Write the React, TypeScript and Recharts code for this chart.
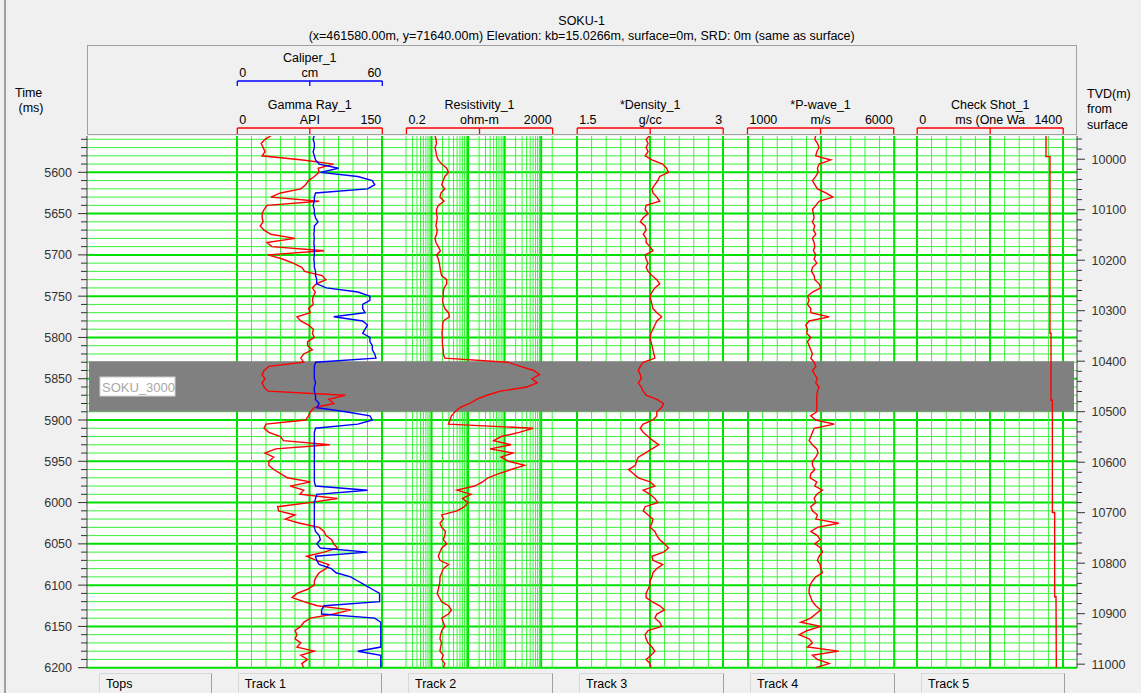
import React from 'react';
import { ComposedChart, Line, XAxis, YAxis, ReferenceLine, ReferenceArea } from 'recharts';

// logs digitised every 5 ms of two-way time, starting at 5555 ms
const START_MS = 5555;
const STEP_MS = 5;

const gammaRay = [
  36, 29, 25, 27, 29, 26, 68, 100, 84, 85,
  80, 74, 71, 66, 45, 35, 85, 31, 28, 26,
  26, 27, 24, 28, 35, 60, 31, 36, 90, 32,
  47, 58, 67, 70, 88, 92, 82, 78, 81, 79,
  78, 79, 74, 76, 62, 66, 74, 79, 78, 80,
  73, 73, 78, 69, 66, 69, 33, 28, 26, 29,
  26, 28, 32, 112, 95, 100, 80, 76, 74, 71,
  30, 28, 33, 45, 48, 96, 40, 29, 38, 33,
  33, 38, 45, 52, 76, 55, 69, 65, 104, 75,
  42, 43, 60, 50, 65, 85, 90, 92, 98, 100,
  104, 90, 72, 82, 95, 92, 85, 82, 80, 80,
  73, 62, 57, 69, 83, 118, 100, 76, 69, 66,
  60, 62, 60, 66, 62, 80, 66, 73, 67, 69,
];

const caliper = [
  32, 31.5, 32, 32, 31.5, 32, 32.5, 34, 42, 34.5,
  50, 56, 57, 54, 32.5, 32, 32, 31.5, 32, 32,
  32.5, 33.5, 32, 32, 31.8, 32, 31.8, 32, 32, 32,
  31.8, 32, 32, 32.5, 32.5, 33, 33, 37, 50, 55,
  55, 52, 52, 53, 40, 52, 54, 53, 52, 55,
  55, 56, 56, 57, 57.5, 32.5, 32, 32, 32, 32,
  32.5, 32, 32, 32.5, 32.5, 34, 33, 45, 55, 56,
  50, 32.5, 32, 32, 32, 32, 32, 32, 32, 32,
  32, 32, 32, 32, 32, 32.5, 54, 33, 32.5, 32,
  32, 32, 32, 32, 32, 32, 32.5, 34, 34.5, 33,
  34.5, 54, 32.5, 33, 34, 39, 41, 47, 50, 53,
  56, 59, 59, 59, 36, 35, 35, 57, 59.5, 59.5,
  59.5, 59.5, 59.5, 59.5, 59.5, 50, 59.5, 59.5, 59.5, 59.5,
];

const resistivity = [
  1.24, 1.32, 1.37, 1.24, 1.32, 1.37, 1.53, 1.9, 2.6, 2.9,
  2.3, 2.1, 1.9, 2.3, 1.8, 1.7, 2.2, 1.53, 1.37, 1.37,
  1.43, 1.37, 1.32, 1.43, 1.37, 1.24, 1.32, 1.53, 1.75, 1.37,
  1.53, 1.63, 1.7, 1.77, 1.88, 2.6, 2.6, 2.2, 2.1, 2.1,
  2.0, 2.1, 2.3, 2.9, 3.1, 2.1, 2.0, 2.0, 1.92, 2.0,
  1.97, 2.0, 2.1, 2.1, 2.3, 120, 270, 630, 900, 560,
  780, 410, 76, 33, 17, 11, 6, 4.4, 3.5, 3.2,
  2.9, 600, 250, 80, 50, 150, 40, 170, 80, 130,
  350, 150, 70, 35, 25, 15, 5, 12, 7, 10,
  8, 5, 1.9, 2.1, 1.7, 1.9, 2.4, 2.3, 2.1, 2.6,
  1.9, 1.7, 1.53, 1.7, 2.9, 2.1, 1.9, 1.7, 1.7, 1.63,
  1.53, 1.43, 1.63, 1.88, 2.9, 3.5, 2.9, 1.9, 2.1, 2.3,
  1.9, 1.77, 1.7, 1.88, 1.77, 1.7, 2.1, 1.88, 2.3, 2.1,
];

const density = [
  2.25, 2.21, 2.23, 2.21, 2.23, 2.2, 2.27, 2.38, 2.42, 2.44,
  2.35, 2.33, 2.3, 2.27, 2.28, 2.32, 2.35, 2.21, 2.2, 2.23,
  2.18, 2.15, 2.2, 2.21, 2.18, 2.21, 2.21, 2.25, 2.28, 2.2,
  2.21, 2.23, 2.21, 2.23, 2.27, 2.32, 2.35, 2.3, 2.27, 2.25,
  2.26, 2.27, 2.28, 2.32, 2.37, 2.32, 2.3, 2.28, 2.26, 2.25,
  2.26, 2.27, 2.28, 2.29, 2.3, 2.18, 2.15, 2.13, 2.15, 2.16,
  2.13, 2.16, 2.18, 2.21, 2.32, 2.39, 2.37, 2.32, 2.32, 2.28,
  2.18, 2.15, 2.18, 2.23, 2.28, 2.34, 2.27, 2.2, 2.13, 2.11,
  2.1, 2.03, 2.08, 2.13, 2.25, 2.3, 2.18, 2.25, 2.3, 2.33,
  2.2, 2.18, 2.23, 2.28, 2.27, 2.25, 2.3, 2.32, 2.35, 2.4,
  2.44, 2.39, 2.27, 2.28, 2.38, 2.32, 2.28, 2.27, 2.25, 2.25,
  2.23, 2.21, 2.21, 2.27, 2.35, 2.4, 2.32, 2.3, 2.35, 2.37,
  2.23, 2.2, 2.21, 2.23, 2.27, 2.3, 2.26, 2.21, 2.25, 2.26,
];

const pWave = [
  3318, 3284, 3375, 3432, 3353, 3318, 3832, 3432, 3375, 3398,
  3318, 3204, 3284, 3375, 3661, 3900, 3432, 3318, 3204, 3238,
  3261, 3204, 3284, 3238, 3318, 3204, 3261, 3284, 3238, 3318,
  3261, 3353, 3204, 3170, 3261, 3284, 3432, 3490, 3204, 3033,
  3090, 3033, 3147, 3147, 3775, 3090, 2976, 3033, 3010, 3147,
  3033, 3090, 3147, 3204, 3147, 3261, 3318, 3204, 3284, 3375,
  3318, 3432, 3375, 3353, 3353, 3353, 3353, 3353, 3147, 3318,
  3950, 3261, 3204, 3147, 3090, 3204, 3353, 3398, 3318, 3204,
  3204, 3284, 3147, 3124, 3353, 3284, 3547, 3353, 3261, 3318,
  3147, 3204, 3375, 3318, 4100, 3375, 3147, 3375, 3467, 3284,
  3490, 3547, 3432, 3375, 3467, 3490, 3547, 3318, 3204, 3124,
  3090, 3090, 3147, 3204, 3318, 3490, 3318, 3147, 2804, 3490,
  3033, 2747, 3090, 3204, 3033, 4100, 3204, 3375, 3775, 3318,
];

const checkShotTime = [5556, 5581, 5581, 5795, 5795, 5876, 5876, 6012, 6012, 6114, 6114, 6200];
const checkShotValue = [1237, 1237, 1275, 1275, 1285, 1285, 1298, 1298, 1320, 1320, 1333, 1336];

const timeLabels = [5600, 5650, 5700, 5750, 5800, 5850, 5900, 5950, 6000, 6050, 6100, 6150, 6200];
const tvdLabels = [10000, 10100, 10200, 10300, 10400, 10500, 10600, 10700, 10800, 10900, 11000];

const topsName = 'SOKU_3000';
const topsTop = 5828.8;
const topsBase = 5890.1;

const timeDomain: [number, number] = [5556, 6200];
const tvdDomain: [number, number] = [9954, 11007];

const W = 1141;
const H = 693;
const PLOT = { left: 87, right: 1077, top: 136, bottom: 667.7 };
const FONT = "'Liberation Sans', Arial, sans-serif";
const RED = '#ff0000';
const BLUE = '#0000ff';
const GREEN_MAJOR = '#00e000';
const GREEN_MINOR = '#3cf03c';

const rows = gammaRay.map((gr, i) => ({
  t: START_MS + i * STEP_MS,
  gr,
  cal: caliper[i],
  res: resistivity[i],
  den: density[i],
  pw: pWave[i],
}));
const checkShotRows = checkShotTime.map((t, i) => ({ t, cs: checkShotValue[i] }));

type Track = { left: number; width: number; domain: [number, number]; log?: boolean };
const tracks: Track[] = [
  { left: 237.3, width: 145, domain: [0, 150] },
  { left: 406.4, width: 146.2, domain: [0.2, 2000], log: true },
  { left: 577.2, width: 146, domain: [1.5, 3] },
  { left: 747.5, width: 146.2, domain: [1000, 6000] },
  { left: 917.2, width: 146, domain: [0, 1400] },
];

const headers = [
  { title: 'Caliper_1', unit: 'cm', lo: '0', hi: '60', color: BLUE, track: 0, row: 0 },
  { title: 'Gamma Ray_1', unit: 'API', lo: '0', hi: '150', color: RED, track: 0, row: 1 },
  { title: 'Resistivity_1', unit: 'ohm-m', lo: '0.2', hi: '2000', color: RED, track: 1, row: 1 },
  { title: '*Density_1', unit: 'g/cc', lo: '1.5', hi: '3', color: RED, track: 2, row: 1 },
  { title: '*P-wave_1', unit: 'm/s', lo: '1000', hi: '6000', color: RED, track: 3, row: 1 },
  { title: 'Check Shot_1', unit: 'ms (One Wa', lo: '0', hi: '1400', color: RED, track: 4, row: 1 },
];

const buttons = [
  { label: 'Tops', left: 99, width: 113 },
  { label: 'Track 1', left: 237.7, width: 144.3 },
  { label: 'Track 2', left: 408, width: 145 },
  { label: 'Track 3', left: 579, width: 145 },
  { label: 'Track 4', left: 750, width: 145 },
  { label: 'Track 5', left: 921, width: 144 },
];

const gridValues = (tr: Track) => {
  if (tr.log) {
    const out: { v: number; major: boolean }[] = [];
    [0.1, 1, 10, 100, 1000].forEach((dec) => {
      for (let k = 1; k <= 9; k++) {
        const v = +(k * dec).toPrecision(3);
        if (v >= 0.2 && v <= 2000) out.push({ v, major: k === 1 && v >= 1 });
      }
    });
    return out;
  }
  const [a, b] = tr.domain;
  return Array.from({ length: 11 }, (_, i) => ({ v: a + ((b - a) * i) / 10, major: i % 5 === 0 }));
};

const timeTicks: number[] = [];
for (let t = 5560; t <= 6200; t += 10) timeTicks.push(t);
const tvdTicks: number[] = [];
for (let d = 9960; d <= 11000; d += 20) tvdTicks.push(d);

const LeftTick = (props: any) => {
  const { x, y, payload } = props;
  const major = timeLabels.includes(payload.value);
  return (
    <g>
      <line x1={x - (major ? 9 : 6)} x2={x} y1={y} y2={y} stroke="#333" />
      {major && (
        <text x={x - 15} y={y + 4.5} textAnchor="end" fontSize={12.5} fill="#333" fontFamily={FONT}>
          {payload.value}
        </text>
      )}
    </g>
  );
};

const RightTick = (props: any) => {
  const { x, y, payload } = props;
  const major = tvdLabels.includes(payload.value);
  return (
    <g>
      <line x1={x} x2={x + (major ? 8 : 5)} y1={y} y2={y} stroke="#333" />
      {major && (
        <text x={x + 14.5} y={y + 4.5} textAnchor="start" fontSize={12.5} fill="#333" fontFamily={FONT}>
          {payload.value}
        </text>
      )}
    </g>
  );
};

const TopsLabel = (props: any) => {
  const { x, y, height } = props.viewBox;
  const cy = y + height / 2;
  return (
    <g>
      <rect x={x + 11} y={cy - 9.5} width={75} height={19} fill="#fff" stroke="#d0d0d0" />
      <text x={x + 13} y={cy + 5} fontSize={13} fill="#a8a8a8" fontFamily={FONT}>
        {topsName}
      </text>
    </g>
  );
};

const PAD = 3;
const vMargin = { top: PLOT.top, bottom: H - PLOT.bottom };

const trackChart = (tr: Track, key: string, data: any[], children: React.ReactNode, second?: [number, number]) => (
  <div key={key} style={{ position: 'absolute', left: tr.left - PAD, top: 0 }}>
    <ComposedChart
      layout="vertical"
      width={tr.width + PAD * 2}
      height={H}
      data={data}
      margin={{ ...vMargin, left: PAD, right: PAD }}
    >
      <XAxis type="number" hide domain={tr.domain} scale={tr.log ? 'log' : 'linear'} allowDataOverflow />
      {second && <XAxis xAxisId="b" type="number" hide domain={second} allowDataOverflow />}
      <YAxis type="number" dataKey="t" hide domain={timeDomain} allowDataOverflow />
      {children}
    </ComposedChart>
  </div>
);

const curve = (key: string, color: string, axis?: string) => (
  <Line
    key={key}
    type="linear"
    dataKey={key}
    xAxisId={axis ?? 0}
    stroke={color}
    strokeWidth={1.4}
    dot={false}
    activeDot={false}
    isAnimationActive={false}
  />
);

export default function App() {
  return (
    <div style={{ position: 'absolute', left: 0, top: 0, width: W, height: H, background: '#f0f0f0', overflow: 'hidden', fontFamily: FONT }}>
      <div style={{ position: 'absolute', left: 4, top: 0, width: 2, height: H, background: '#a0a0a0' }} />

      {/* titles and curve scales */}
      <svg width={W} height={140} style={{ position: 'absolute', left: 0, top: 0 }}>
        <text x={581.6} y={24.5} textAnchor="middle" fontSize={12.5} fill="#000" fontFamily={FONT}>SOKU-1</text>
        <text x={581.7} y={39.5} textAnchor="middle" fontSize={12.5} fill="#000" fontFamily={FONT}>
          (x=461580.00m, y=71640.00m) Elevation: kb=15.0266m, surface=0m, SRD: 0m (same as surface)
        </text>
        <rect x={87.5} y={45.5} width={989} height={89} fill="none" stroke="#a0a0a0" />
        <text x={15} y={96.5} fontSize={12.5} fill="#000" fontFamily={FONT}>Time</text>
        <text x={18.5} y={111.5} fontSize={12.5} fill="#000" fontFamily={FONT}>(ms)</text>
        <text x={1087} y={97.5} fontSize={12.5} fill="#000" fontFamily={FONT}>TVD(m)</text>
        <text x={1087} y={112.5} fontSize={12.5} fill="#000" fontFamily={FONT}>from</text>
        <text x={1087} y={128.5} fontSize={12.5} fill="#000" fontFamily={FONT}>surface</text>
        {headers.map((h) => {
          const tr = tracks[h.track];
          const l = tr.left;
          const r = tr.left + tr.width;
          const m = (l + r) / 2;
          const base = h.row === 0 ? 57 : 104;
          const by = h.row === 0 ? 81 : 128;
          const tick = h.row === 0 ? 5 : 6;
          return (
            <g key={h.title} fontFamily={FONT} fontSize={12.5} fill="#000">
              <text x={m} y={base + 4.5} textAnchor="middle">{h.title}</text>
              <text x={l + 2} y={base + 19.5} textAnchor="start">{h.lo}</text>
              <text x={m} y={base + 19.5} textAnchor="middle">{h.unit}</text>
              <text x={r - 1} y={base + 19.5} textAnchor="end">{h.hi}</text>
              <line x1={l} x2={r} y1={by} y2={by} stroke={h.color} strokeWidth={1.3} />
              {[l, m, r].map((px) => (
                <line key={px} x1={px} x2={px} y1={by} y2={by + tick} stroke={h.color} strokeWidth={1.3} />
              ))}
            </g>
          );
        })}
      </svg>

      <div style={{ position: 'absolute', left: PLOT.left, top: PLOT.top, width: PLOT.right - PLOT.left, height: PLOT.bottom - PLOT.top, background: '#fff' }} />

      {/* axes and horizontal grid */}
      <div style={{ position: 'absolute', left: 0, top: 0 }}>
        <ComposedChart width={W} height={H} data={rows} margin={{ ...vMargin, left: 0, right: 0 }}>
          <XAxis hide />
          <YAxis
            yAxisId="time"
            type="number"
            orientation="left"
            reversed
            width={PLOT.left}
            domain={timeDomain}
            allowDataOverflow
            ticks={timeTicks}
            interval={0}
            tickSize={0}
            tickMargin={0}
            tickLine={false}
            axisLine={{ stroke: '#404040' }}
            tick={LeftTick}
          />
          <YAxis
            yAxisId="tvd"
            type="number"
            orientation="right"
            reversed
            width={W - PLOT.right}
            domain={tvdDomain}
            allowDataOverflow
            ticks={tvdTicks}
            interval={0}
            tickSize={0}
            tickMargin={0}
            tickLine={false}
            axisLine={{ stroke: '#404040' }}
            tick={RightTick}
          />
          {timeTicks.map((t) => (
            <ReferenceLine
              key={t}
              yAxisId="time"
              y={t}
              stroke={t % 50 === 0 ? GREEN_MAJOR : GREEN_MINOR}
              strokeWidth={t % 50 === 0 ? 2 : 1}
            />
          ))}
        </ComposedChart>
      </div>

      {/* vertical grid of each track */}
      {tracks.map((tr, i) =>
        trackChart(
          tr,
          `grid${i}`,
          [],
          gridValues(tr).map((g) => (
            <ReferenceLine
              key={g.v}
              x={g.v}
              stroke={g.major ? GREEN_MAJOR : GREEN_MINOR}
              strokeWidth={g.major ? 2 : 1}
            />
          )),
        ),
      )}

      {/* formation top band */}
      <div style={{ position: 'absolute', left: 89, top: 0 }}>
        <ComposedChart width={985} height={H} data={rows} margin={{ ...vMargin, left: 0, right: 0 }}>
          <XAxis hide />
          <YAxis type="number" hide reversed domain={timeDomain} allowDataOverflow />
          <ReferenceArea y1={topsTop} y2={topsBase} fill="#808080" fillOpacity={1} stroke="none" label={TopsLabel} />
        </ComposedChart>
      </div>

      {/* log curves */}
      {trackChart(tracks[0], 'c0', rows, [curve('gr', RED), curve('cal', BLUE, 'b')], [0, 60])}
      {trackChart(tracks[1], 'c1', rows, [curve('res', RED)])}
      {trackChart(tracks[2], 'c2', rows, [curve('den', RED)])}
      {trackChart(tracks[3], 'c3', rows, [curve('pw', RED)])}
      {trackChart(tracks[4], 'c4', checkShotRows, [curve('cs', RED)])}

      {buttons.map((b) => (
        <div
          key={b.label}
          style={{
            position: 'absolute',
            left: b.left,
            top: 673,
            width: b.width,
            height: 24,
            boxSizing: 'border-box',
            background: '#f0f0f0',
            borderTop: '1px solid #d8d8d8',
            borderLeft: '1px solid #d8d8d8',
            borderRight: '1px solid #a0a0a0',
            fontSize: 12.5,
            paddingLeft: 6,
            paddingTop: 3,
            color: '#000',
          }}
        >
          {b.label}
        </div>
      ))}
    </div>
  );
}
